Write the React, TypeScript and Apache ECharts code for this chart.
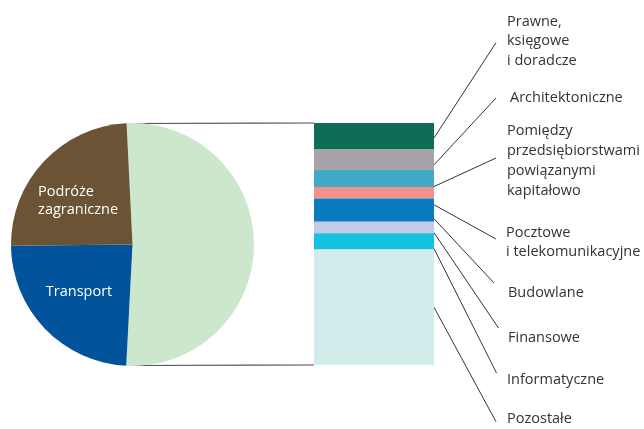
import React, { useEffect, useRef } from 'react';
import * as echarts from 'echarts';

// ---- data ----
const pieNames = ['Pozostałe', 'Transport', 'Podróże\nzagraniczne'];
const pieValues = [51.6, 24.0, 24.4];
const pieColors = ['#CDE7CD', '#01549B', '#6B5436'];
const pieLabelShown = [false, true, true];

const barNames = [
  'Prawne,\nksięgowe\ni doradcze',
  'Architektoniczne',
  'Pomiędzy\nprzedsiębiorstwami\npowiązanymi\nkapitałowo',
  'Pocztowe\ni telekomunikacyjne',
  'Budowlane',
  'Finansowe',
  'Informatyczne',
  'Pozostałe',
];
const barValues = [11.0, 8.4, 7.0, 4.8, 9.6, 4.8, 6.7, 47.7];
const barColors = ['#0E6D56', '#A6A4A8', '#41A9C5', '#F4908A', '#0B7BC0', '#C3CBE7', '#15C1DF', '#D2ECEC'];

// ---- layout (pixels) ----
const PIE_CX = 132.5;
const PIE_CY = 244.5;
const PIE_R = 121.5;
const GRID_LEFT = 314;
const GRID_TOP = 123;
const GRID_W = 120;
const GRID_H = 242;
const pieLabelLayout: any[] = [{}, { dx: -7.5, dy: 1.5 }, { dx: -48, dy: -1, align: 'left' }];
const leaderFrac = [0.56, 0.75, 0.98, 1.54, 0.87, 0.94, 0.94, 0.5];
const leaderEnd = [[496, 42.7], [496, 98], [496, 158], [496, 239], [494, 283], [498.5, 328], [496.5, 373], [496, 421.7]];
// [x, top, lineHeight]
const labelPos = [[507, 10.25, 19.5], [510, 86.25, 19.5], [507, 120.1, 19.8], [506, 222.5, 18.5], [508, 282, 19.5], [508, 326.25, 19.5], [507, 368.25, 19.5], [507, 410, 14]];

const FONT = '"Open Sans", "Noto Sans", sans-serif';

export default function App() {
  const ref = useRef<HTMLDivElement>(null);
  useEffect(() => {
    if (!ref.current) return;
    const chart = echarts.init(ref.current, undefined, { renderer: 'svg' });

    let cum = 0;
    const leaderData = barValues.map((v, i) => {
      const a = cum + leaderFrac[i] * v;
      cum += v;
      return [0, a, i];
    });

    const startAngle = 92.8;

    const option: any = {
      animation: false,
      grid: { left: GRID_LEFT, top: GRID_TOP, width: GRID_W, height: GRID_H },
      xAxis: { type: 'category', data: ['x'], show: false, boundaryGap: true },
      yAxis: { type: 'value', min: 0, max: 100, inverse: true, show: false },
      series: [
        {
          type: 'pie',
          center: [PIE_CX, PIE_CY],
          radius: [0, PIE_R],
          startAngle,
          clockwise: true,
          silent: true,
          data: pieValues.map((v, i) => ({
            name: pieNames[i],
            value: v,
            itemStyle: { color: pieColors[i] },
            label: { show: pieLabelShown[i] },
          })),
          label: {
            position: 'inside',
            color: '#fff',
            fontSize: 14.5,
            fontFamily: FONT,
            lineHeight: 18,
            formatter: '{b}',
          },
          labelLayout: (p: any) => pieLabelLayout[p.dataIndex],
          labelLine: { show: false },
        },
        ...barValues.map((v, i) => ({
          type: 'bar',
          name: barNames[i],
          stack: 's',
          data: [v],
          barWidth: GRID_W,
          silent: true,
          itemStyle: { color: barColors[i] },
        })),
        {
          type: 'custom',
          silent: true,
          clip: false,
          data: leaderData,
          encode: { x: 0, y: 1 },
          renderItem: (params: any, api: any) => {
            const i = api.value(2);
            const pt = api.coord([0, api.value(1)]);
            const half = api.size([1, 0])[0] / 2;
            return {
              type: 'line',
              shape: { x1: pt[0] + half, y1: pt[1], x2: leaderEnd[i][0], y2: leaderEnd[i][1] },
              style: { stroke: '#333', lineWidth: 1 },
            };
          },
        },
      ],
      graphic: [
        {
          type: 'line',
          silent: true,
          shape: { x1: PIE_CX - 1, y1: PIE_CY - PIE_R + 0.5, x2: GRID_LEFT, y2: GRID_TOP },
          style: { stroke: '#555', lineWidth: 1.2 },
        },
        {
          type: 'line',
          silent: true,
          shape: { x1: PIE_CX - 1, y1: PIE_CY + PIE_R - 0.5, x2: GRID_LEFT, y2: GRID_TOP + GRID_H },
          style: { stroke: '#555', lineWidth: 1.2 },
        },
        ...barNames.map((n, i) => ({
          type: 'text',
          silent: true,
          x: labelPos[i][0],
          y: labelPos[i][1],
          style: {
            text: n,
            font: `14.5px ${FONT}`,
            fill: '#333',
            lineHeight: labelPos[i][2],
            verticalAlign: 'top',
            align: 'left',
          },
        })),
      ],
    };
    chart.setOption(option);
    return () => chart.dispose();
  }, []);
  return <div ref={ref} style={{ position: 'fixed', left: 0, top: 0, width: 644, height: 429 }} />;
}
